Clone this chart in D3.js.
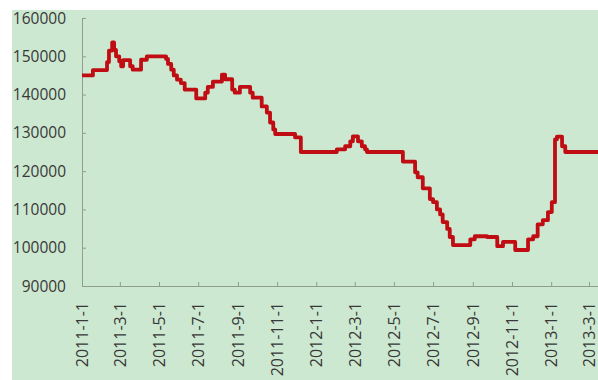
<!DOCTYPE html>
<html>
<head>
<meta charset="utf-8">
<script src="https://cdn.jsdelivr.net/npm/d3@7"></script>
<style>
  body { margin: 0; background: #fff; }
  svg { display: block; }
</style>
</head>
<body>
<svg width="598" height="380"></svg>
<script>
// change points of the series (value holds until next date)
const dates = [
  "2011-01-01","2011-01-18","2011-02-09","2011-02-12","2011-02-17","2011-02-20","2011-02-23","2011-02-28",
  "2011-03-03","2011-03-06","2011-03-17","2011-03-21","2011-04-03","2011-04-12","2011-05-12","2011-05-15",
  "2011-05-20","2011-05-24","2011-05-29","2011-06-04","2011-06-10","2011-06-28","2011-07-12","2011-07-16",
  "2011-07-24","2011-08-07","2011-08-12","2011-08-23","2011-08-27","2011-09-04","2011-09-20","2011-09-24",
  "2011-10-08","2011-10-16","2011-10-21","2011-10-26","2011-10-29","2011-11-29","2011-12-08","2012-02-02",
  "2012-02-15","2012-02-23","2012-02-27","2012-03-06","2012-03-12","2012-03-17","2012-03-20","2012-05-15",
  "2012-06-03","2012-06-07","2012-06-15","2012-06-26","2012-07-01","2012-07-07","2012-07-12","2012-07-16",
  "2012-07-23","2012-07-27","2012-08-01","2012-08-28","2012-09-04","2012-09-23","2012-10-09","2012-10-18",
  "2012-11-06","2012-11-26","2012-12-04","2012-12-11","2012-12-19","2012-12-27","2013-01-02","2013-01-07",
  "2013-01-10","2013-01-18","2013-01-23","2013-03-15"
];
const values = [
  145000,146400,148500,151500,153600,151700,150000,148700,
  147400,149000,147400,146500,149100,150000,149300,148000,
  146500,145000,143900,143000,141300,139000,140500,142000,
  143400,145200,144000,141300,140500,142000,140500,139200,
  136900,135300,132700,130900,129700,128800,125000,125700,
  126500,127800,129100,127800,126500,125700,125000,122500,
  119700,118400,115500,112700,111900,110000,108700,106700,
  104900,102800,100700,102200,103000,102800,100400,101500,
  99400,102200,103000,106100,107200,109300,111900,128300,
  129000,126500,125000,125000
];
const yTicks = [90000, 100000, 110000, 120000, 130000, 140000, 150000, 160000];
const xTickLabels = ["2011-1-1","2011-3-1","2011-5-1","2011-7-1","2011-9-1","2011-11-1",
  "2012-1-1","2012-3-1","2012-5-1","2012-7-1","2012-9-1","2012-11-1","2013-1-1","2013-3-1"];

const parse = d3.timeParse("%Y-%m-%d");
const series = dates.map((d, i) => ({date: parse(d), value: values[i]}));
const tickDates = xTickLabels.map(s => d3.timeParse("%Y-%-m-%-d")(s));

const svg = d3.select("svg"),
  width = +svg.attr("width"),
  height = +svg.attr("height");

// green chart area
svg.append("rect")
  .attr("x", 12).attr("y", 10)
  .attr("width", width - 12).attr("height", height - 10)
  .attr("fill", "#cde8d0");

const x = d3.scaleTime()
  .domain([parse("2011-01-01"), parse("2013-03-15")])
  .range([82, 598]);

const y = d3.scaleLinear()
  .domain([90000, 160000])
  .range([286, 18]);

const axisColor = "#8e9e8f";
const textColor = "#383838";

// y axis
const yAxis = svg.append("g")
  .attr("transform", "translate(82,0)")
  .call(d3.axisRight(y).tickValues(yTicks).tickSize(4).tickFormat(""));
yAxis.select(".domain").remove();
yAxis.selectAll("line").attr("stroke", axisColor);
svg.append("line")
  .attr("x1", 82.5).attr("x2", 82.5)
  .attr("y1", y(160000)).attr("y2", y(90000))
  .attr("stroke", axisColor);

svg.append("g")
  .selectAll("text")
  .data(yTicks)
  .join("text")
    .attr("x", 66)
    .attr("y", d => y(d))
    .attr("dy", "0.36em")
    .attr("text-anchor", "end")
    .attr("fill", textColor)
    .style("font-family", "'Open Sans', sans-serif")
    .style("font-size", "15.5px")
    .text(d => d);

// x axis
const xAxis = svg.append("g")
  .attr("transform", `translate(0,${y(90000)})`)
  .call(d3.axisTop(x).tickValues(tickDates).tickSize(4).tickFormat(""));
xAxis.select(".domain").remove();
xAxis.selectAll("line").attr("stroke", axisColor);
svg.append("line")
  .attr("x1", 82).attr("x2", width)
  .attr("y1", y(90000) + 0.5).attr("y2", y(90000) + 0.5)
  .attr("stroke", axisColor);

svg.append("g")
  .selectAll("text")
  .data(xTickLabels)
  .join("text")
    .attr("transform", (d, i) => `translate(${x(tickDates[i])},302) rotate(-90)`)
    .attr("dy", "0.36em")
    .attr("text-anchor", "end")
    .attr("fill", textColor)
    .style("font-family", "'Open Sans', sans-serif")
    .style("font-size", "16px")
    .text(d => d);

// the line
svg.append("path")
  .datum(series)
  .attr("fill", "none")
  .attr("stroke", "#c00d14")
  .attr("stroke-width", 3.8)
  .attr("stroke-linejoin", "round")
  .attr("d", d3.line()
    .curve(d3.curveStepAfter)
    .x(d => x(d.date))
    .y(d => y(d.value)));
</script>
</body>
</html>
